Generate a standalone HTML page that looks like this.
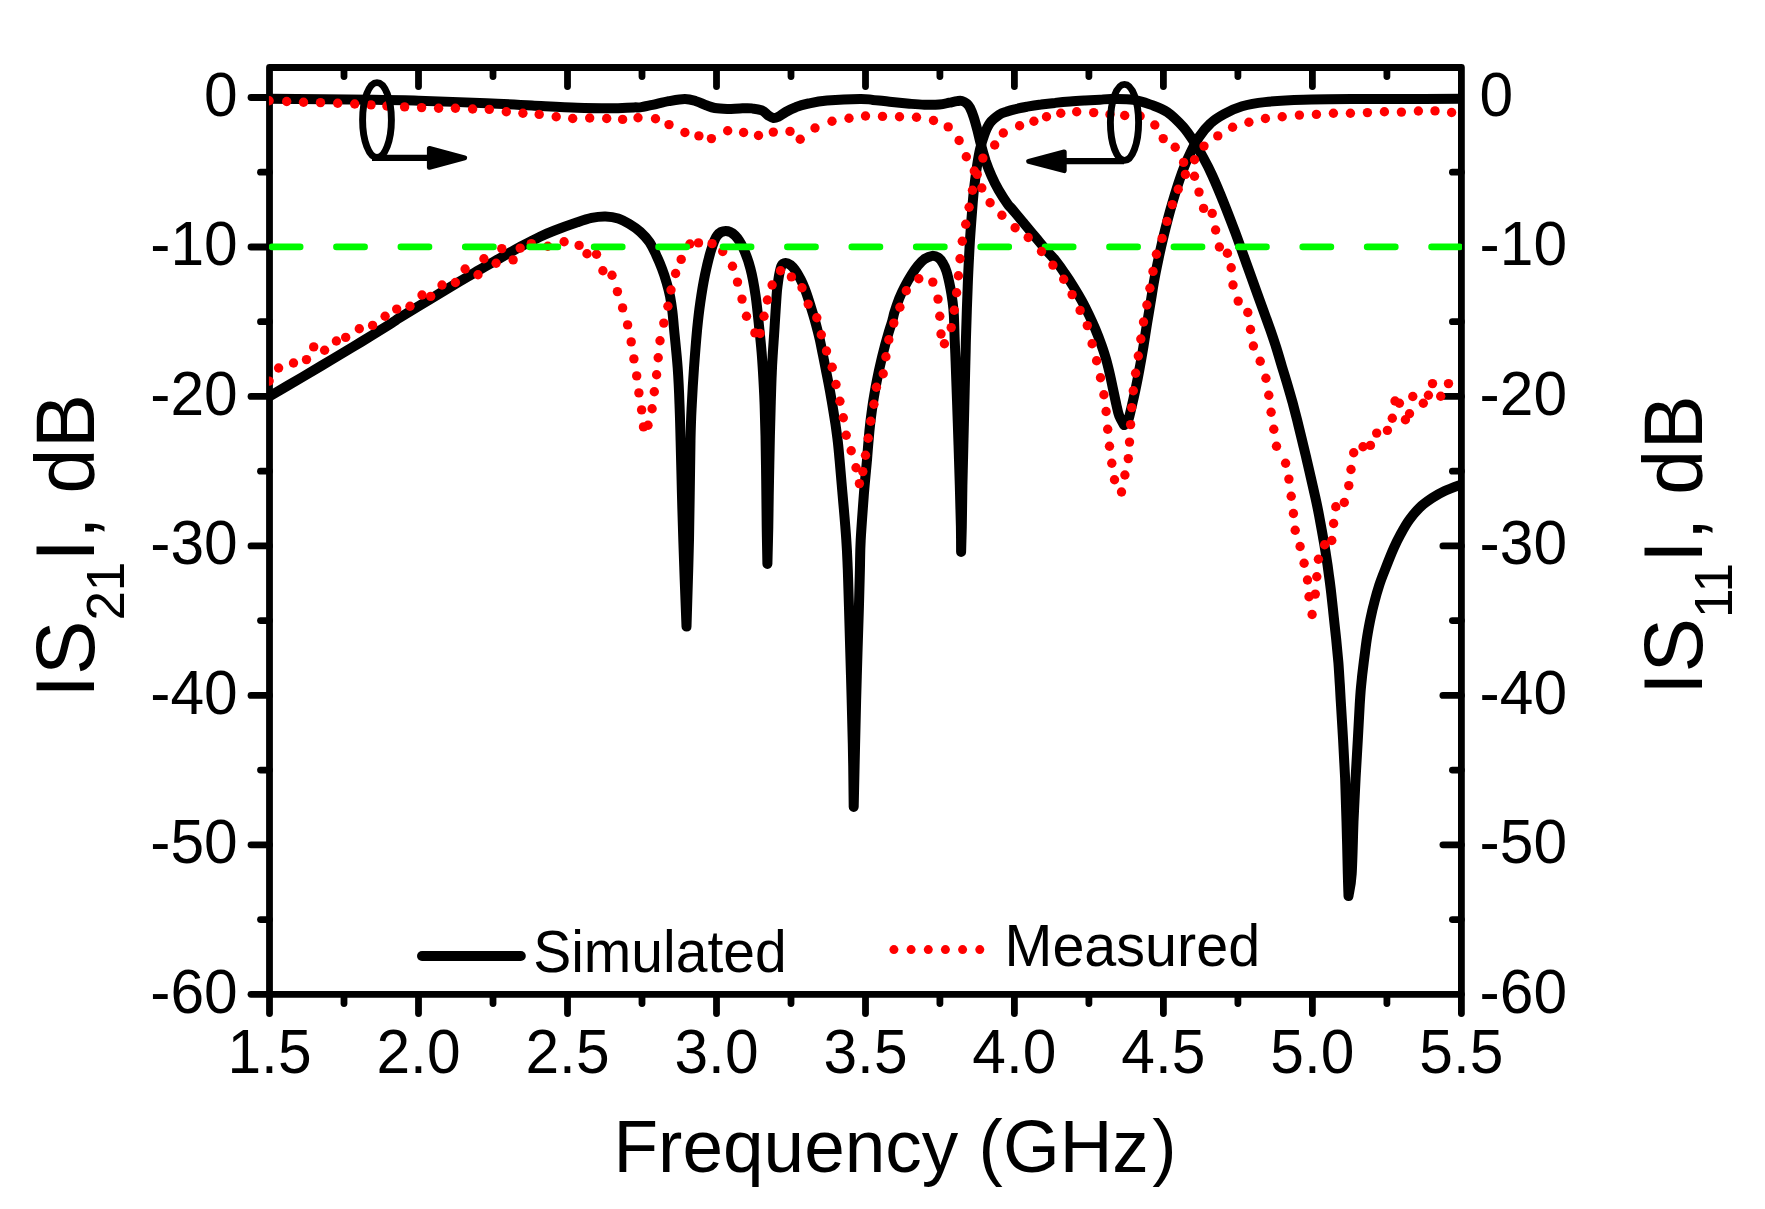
<!DOCTYPE html><html><head><meta charset="utf-8"><title>S-parameters</title><style>html,body{margin:0;padding:0;background:#fff}svg{display:block}text{font-family:"Liberation Sans",sans-serif;fill:#000}</style></head><body>
<svg width="1765" height="1209" viewBox="0 0 1765 1209">
<rect width="1765" height="1209" fill="#fff"/>
<defs><clipPath id="plot"><rect x="268.9" y="67.5" width="1193.1000000000001" height="926.8"/></clipPath></defs>
<g stroke="#000" stroke-width="6.8" fill="none" stroke-linecap="round" stroke-linejoin="round">
<rect x="269.5" y="67.5" width="1191.9" height="926.8"/>
<line x1="269.5" y1="994.3" x2="269.5" y2="1013.6"/>
<line x1="344.0" y1="994.3" x2="344.0" y2="1003.6"/>
<line x1="344.0" y1="67.5" x2="344.0" y2="76.5"/>
<line x1="418.5" y1="994.3" x2="418.5" y2="1013.6"/>
<line x1="418.5" y1="67.5" x2="418.5" y2="86.5"/>
<line x1="493.0" y1="994.3" x2="493.0" y2="1003.6"/>
<line x1="493.0" y1="67.5" x2="493.0" y2="76.5"/>
<line x1="567.5" y1="994.3" x2="567.5" y2="1013.6"/>
<line x1="567.5" y1="67.5" x2="567.5" y2="86.5"/>
<line x1="642.0" y1="994.3" x2="642.0" y2="1003.6"/>
<line x1="642.0" y1="67.5" x2="642.0" y2="76.5"/>
<line x1="716.5" y1="994.3" x2="716.5" y2="1013.6"/>
<line x1="716.5" y1="67.5" x2="716.5" y2="86.5"/>
<line x1="791.0" y1="994.3" x2="791.0" y2="1003.6"/>
<line x1="791.0" y1="67.5" x2="791.0" y2="76.5"/>
<line x1="865.5" y1="994.3" x2="865.5" y2="1013.6"/>
<line x1="865.5" y1="67.5" x2="865.5" y2="86.5"/>
<line x1="939.9" y1="994.3" x2="939.9" y2="1003.6"/>
<line x1="939.9" y1="67.5" x2="939.9" y2="76.5"/>
<line x1="1014.4" y1="994.3" x2="1014.4" y2="1013.6"/>
<line x1="1014.4" y1="67.5" x2="1014.4" y2="86.5"/>
<line x1="1088.9" y1="994.3" x2="1088.9" y2="1003.6"/>
<line x1="1088.9" y1="67.5" x2="1088.9" y2="76.5"/>
<line x1="1163.4" y1="994.3" x2="1163.4" y2="1013.6"/>
<line x1="1163.4" y1="67.5" x2="1163.4" y2="86.5"/>
<line x1="1237.9" y1="994.3" x2="1237.9" y2="1003.6"/>
<line x1="1237.9" y1="67.5" x2="1237.9" y2="76.5"/>
<line x1="1312.4" y1="994.3" x2="1312.4" y2="1013.6"/>
<line x1="1312.4" y1="67.5" x2="1312.4" y2="86.5"/>
<line x1="1386.9" y1="994.3" x2="1386.9" y2="1003.6"/>
<line x1="1386.9" y1="67.5" x2="1386.9" y2="76.5"/>
<line x1="1461.4" y1="994.3" x2="1461.4" y2="1013.6"/>
<line x1="269.5" y1="97.5" x2="251.0" y2="97.5"/>
<line x1="269.5" y1="172.2" x2="260.5" y2="172.2"/>
<line x1="1461.4" y1="172.2" x2="1452.4" y2="172.2"/>
<line x1="269.5" y1="247.0" x2="251.0" y2="247.0"/>
<line x1="269.5" y1="321.7" x2="260.5" y2="321.7"/>
<line x1="1461.4" y1="321.7" x2="1452.4" y2="321.7"/>
<line x1="269.5" y1="396.4" x2="251.0" y2="396.4"/>
<line x1="1461.4" y1="396.4" x2="1442.9" y2="396.4"/>
<line x1="269.5" y1="471.2" x2="260.5" y2="471.2"/>
<line x1="1461.4" y1="471.2" x2="1452.4" y2="471.2"/>
<line x1="269.5" y1="545.9" x2="251.0" y2="545.9"/>
<line x1="1461.4" y1="545.9" x2="1442.9" y2="545.9"/>
<line x1="269.5" y1="620.6" x2="260.5" y2="620.6"/>
<line x1="1461.4" y1="620.6" x2="1452.4" y2="620.6"/>
<line x1="269.5" y1="695.4" x2="251.0" y2="695.4"/>
<line x1="1461.4" y1="695.4" x2="1442.9" y2="695.4"/>
<line x1="269.5" y1="770.1" x2="260.5" y2="770.1"/>
<line x1="1461.4" y1="770.1" x2="1452.4" y2="770.1"/>
<line x1="269.5" y1="844.8" x2="251.0" y2="844.8"/>
<line x1="1461.4" y1="844.8" x2="1442.9" y2="844.8"/>
<line x1="269.5" y1="919.6" x2="260.5" y2="919.6"/>
<line x1="1461.4" y1="919.6" x2="1452.4" y2="919.6"/>
<line x1="269.5" y1="994.3" x2="251.0" y2="994.3"/>
</g>
<g clip-path="url(#plot)">
<g fill="none" stroke="#000" stroke-width="10" stroke-linejoin="round" stroke-linecap="round"><path d="M269.1 98.8C286.4 98.9 348.4 99.3 373.3 99.7C398.2 100.0 399.8 100.1 418.6 100.7C437.5 101.3 467.7 102.4 486.6 103.2C505.5 104.0 516.8 104.7 532.0 105.5C547.1 106.3 564.1 107.4 577.3 107.8C590.5 108.3 601.8 108.3 611.3 108.3C620.7 108.2 629.2 107.5 633.9 107.4C638.7 107.2 636.9 107.8 640.0 107.4C643.1 107.0 647.7 105.9 652.5 104.9C657.2 103.9 663.3 102.2 668.7 101.2C674.1 100.2 680.3 98.9 684.9 98.9C689.4 98.9 692.6 100.1 696.1 101.2C699.6 102.2 702.9 104.1 706.1 105.3C709.2 106.4 711.3 107.4 714.8 108.0C718.3 108.6 723.1 108.8 727.2 108.9C731.4 109.0 735.6 108.5 739.7 108.4C743.9 108.3 748.4 108.0 752.2 108.4C755.9 108.7 759.4 109.3 762.1 110.5C764.8 111.7 766.5 114.2 768.4 115.5C770.3 116.7 771.7 117.8 773.4 118.0C775.0 118.2 776.3 117.7 778.4 116.7C780.4 115.7 782.9 113.6 785.8 112.0C788.7 110.4 792.1 108.6 795.8 107.2C799.5 105.7 803.1 104.6 808.3 103.5C813.5 102.4 818.3 101.3 827.0 100.5C835.6 99.8 852.4 99.0 860.0 98.9C867.6 98.8 867.8 99.4 872.8 99.9C877.7 100.3 883.5 101.1 889.6 101.7C895.7 102.4 903.7 103.2 909.5 103.7C915.3 104.2 919.4 104.6 924.4 104.7C929.3 104.9 935.1 104.9 939.3 104.5C943.4 104.2 946.2 103.3 949.2 102.7C952.2 102.1 955.0 101.4 957.1 101.1C959.3 100.8 960.4 100.5 962.1 101.0C963.7 101.4 965.7 102.6 967.0 103.7C968.4 104.9 968.9 105.6 970.0 107.8C971.1 110.0 972.5 113.4 973.7 117.1C974.9 120.7 976.1 125.2 977.3 129.8C978.5 134.4 979.6 139.6 981.0 144.8C982.4 150.1 984.0 155.8 985.7 161.1C987.5 166.3 989.4 171.3 991.6 176.1C993.7 180.9 996.0 185.4 998.6 190.0C1001.3 194.6 1005.3 200.8 1007.5 203.9C1009.6 207.0 1009.0 205.4 1011.6 208.5C1014.2 211.6 1019.3 217.8 1023.2 222.4C1027.0 227.1 1030.9 231.7 1034.7 236.3C1038.6 240.9 1042.8 246.2 1046.3 250.2C1049.8 254.3 1052.5 256.8 1055.6 260.6C1058.7 264.5 1061.8 268.9 1064.8 273.4C1067.9 277.8 1071.0 282.6 1073.9 287.3C1076.8 291.9 1079.5 296.5 1082.0 301.2C1084.5 305.8 1086.8 310.4 1089.1 315.1C1091.3 319.7 1093.3 324.1 1095.3 329.0C1097.3 333.8 1099.4 339.2 1101.1 344.0C1102.9 348.8 1104.3 353.3 1105.7 357.9C1107.1 362.6 1108.1 366.8 1109.3 371.8C1110.5 376.8 1111.7 382.6 1112.8 388.0C1114.0 393.4 1115.2 399.6 1116.3 404.3C1117.3 408.9 1117.9 412.4 1119.2 415.8C1120.5 419.3 1123.3 423.6 1124.1 425.1L1124.1 425.1C1124.7 424.5 1126.7 423.2 1127.6 421.6C1128.5 420.1 1128.7 418.7 1129.5 415.8C1130.2 412.9 1131.3 408.5 1132.2 404.3C1133.2 400.0 1134.1 396.1 1135.3 390.4C1136.5 384.6 1138.1 376.8 1139.4 369.5C1140.8 362.2 1142.2 354.1 1143.5 346.3C1144.7 338.6 1145.9 330.9 1147.1 323.2C1148.4 315.4 1149.9 306.8 1151.0 300.0C1152.1 293.2 1152.7 288.9 1153.9 282.1C1155.1 275.3 1156.7 267.4 1158.4 259.4C1160.0 251.5 1162.1 242.4 1164.0 234.5C1165.9 226.6 1167.7 219.4 1169.8 211.8C1171.9 204.3 1174.2 196.4 1176.5 189.2C1178.8 182.0 1181.2 174.8 1183.5 168.8C1185.8 162.7 1187.8 158.2 1190.4 152.9C1193.0 147.6 1195.7 142.0 1199.0 137.1C1202.4 132.1 1206.2 127.3 1210.4 123.5C1214.5 119.6 1218.7 117.0 1224.0 114.1C1229.3 111.2 1235.3 108.3 1242.1 106.3C1248.9 104.3 1254.6 103.2 1264.8 102.1C1275.0 101.0 1287.4 100.2 1303.3 99.7C1319.2 99.1 1340.5 99.1 1359.9 99.0C1379.4 98.9 1403.1 99.0 1420.0 99.0C1436.9 99.0 1454.6 98.8 1461.5 98.8"/></g>
<g fill="none" stroke="#000" stroke-width="10" stroke-linejoin="round" stroke-linecap="round"><path d="M268.0 397.2C273.6 393.9 291.1 383.7 301.7 377.5C312.3 371.2 321.6 365.7 331.5 359.7C341.4 353.8 351.4 347.9 361.3 341.9C371.2 335.8 384.6 327.6 391.1 323.5C397.5 319.5 393.6 321.6 400.0 317.6C406.4 313.6 419.9 305.4 429.8 299.4C439.7 293.4 451.3 286.4 459.6 281.5C467.9 276.6 472.8 273.6 479.4 269.8C486.1 265.9 492.7 262.3 499.3 258.6C505.9 254.8 512.4 251.1 519.2 247.4C526.0 243.8 534.1 239.5 540.0 236.7C545.9 233.9 548.4 232.9 554.6 230.5C560.8 228.1 571.1 224.4 577.3 222.3C583.4 220.1 586.9 218.8 591.6 217.8C596.3 216.8 601.0 216.3 605.5 216.4C609.9 216.5 614.2 217.1 618.2 218.4C622.3 219.7 626.1 222.0 629.8 224.2C633.5 226.4 636.9 228.7 640.2 231.7C643.5 234.7 646.8 238.2 649.5 242.1C652.1 246.0 654.0 250.4 656.1 254.8C658.2 259.3 660.3 264.1 662.0 268.7C663.8 273.4 665.3 278.0 666.6 282.6C668.0 287.3 669.1 291.7 670.1 296.5C671.0 301.4 671.7 306.1 672.4 311.6C673.1 317.1 673.2 320.1 674.1 329.5C675.0 338.9 676.8 355.5 677.7 368.0C678.6 380.5 679.1 392.2 679.5 404.2C680.0 416.3 680.2 425.8 680.6 440.5C681.0 455.2 681.5 476.1 681.9 492.6C682.4 509.2 682.5 517.7 683.3 540.0C684.0 562.3 685.9 612.1 686.5 626.6L686.5 626.6C686.9 612.1 688.3 571.0 689.0 540.0C689.6 509.0 690.1 463.1 690.5 440.5C691.0 417.9 691.2 416.3 691.8 404.2C692.4 392.2 693.1 380.5 694.0 368.0C694.9 355.5 696.1 340.4 697.1 329.5C698.2 318.5 699.0 311.5 700.3 302.5C701.6 293.5 703.1 284.0 704.9 275.3C706.7 266.6 709.0 257.0 711.0 250.4C713.0 243.8 714.6 238.8 717.1 235.6C719.5 232.4 722.6 231.1 725.7 231.1C728.7 231.1 732.3 232.8 735.2 235.6C738.1 238.5 740.6 242.6 743.2 248.1C745.7 253.6 748.4 260.6 750.4 268.5C752.5 276.4 754.1 285.5 755.6 295.7C757.1 305.9 758.4 320.1 759.4 329.5C760.4 338.9 761.0 344.9 761.6 352.1C762.2 359.3 762.5 364.2 763.0 372.5C763.5 380.8 764.1 391.4 764.5 402.0C764.9 412.6 765.2 422.8 765.5 436.0C765.8 449.2 766.0 466.2 766.2 481.3C766.4 496.4 766.5 512.8 766.7 526.6C766.9 540.4 767.3 557.8 767.4 564.0L767.4 564.0C767.5 557.8 768.0 540.4 768.3 526.6C768.5 512.8 768.7 496.4 769.0 481.3C769.3 466.2 769.6 449.2 769.9 436.0C770.2 422.8 770.5 412.6 770.8 402.0C771.1 391.4 771.4 380.8 771.8 372.5C772.1 364.2 772.4 360.1 772.9 352.1C773.4 344.2 774.3 332.6 774.7 324.9C775.2 317.3 775.5 312.1 775.9 306.2C776.3 300.3 776.6 294.7 777.1 289.6C777.7 284.5 778.3 279.6 779.0 275.6C779.8 271.6 780.5 267.7 781.6 265.6C782.7 263.5 784.2 263.1 785.7 263.0C787.2 262.9 789.0 264.0 790.7 265.2C792.3 266.5 794.0 268.3 795.6 270.6C797.3 272.9 798.9 276.0 800.4 278.9C801.9 281.8 803.3 284.8 804.5 288.0C805.8 291.1 806.9 294.5 808.0 297.9C809.1 301.3 810.3 305.1 811.4 308.7C812.5 312.2 813.6 315.8 814.6 319.4C815.6 323.0 816.6 326.7 817.5 330.2C818.4 333.6 819.0 335.9 819.9 340.0C820.8 344.1 821.8 349.4 822.9 354.7C823.9 360.1 825.2 366.3 826.3 372.1C827.5 377.9 828.6 383.7 829.7 389.5C830.8 395.3 831.7 401.1 832.7 406.8C833.7 412.6 834.6 418.4 835.5 424.2C836.3 430.0 837.1 435.6 837.8 441.6C838.5 447.5 838.8 451.5 839.6 460.0C840.4 468.5 841.3 479.3 842.4 492.6C843.6 506.0 845.5 527.1 846.3 540.0C847.2 552.9 847.3 558.6 847.8 569.9C848.2 581.2 848.4 590.3 849.0 608.0C849.5 625.7 850.3 653.3 851.0 676.0C851.6 698.6 852.3 722.1 852.8 744.0C853.3 765.8 853.6 796.5 853.7 807.0L853.7 807.0C853.9 796.5 854.6 765.8 855.1 744.0C855.6 722.1 856.1 698.6 856.8 676.0C857.4 653.3 858.4 625.7 858.9 608.0C859.4 590.3 859.6 581.2 859.9 569.9C860.2 558.6 860.0 552.9 860.7 540.0C861.4 527.1 863.0 506.0 864.0 492.6C865.1 479.3 866.2 468.9 867.0 460.0C867.7 451.1 868.1 445.6 868.7 439.3C869.2 432.9 869.7 427.7 870.4 421.9C871.1 416.1 871.9 410.3 872.7 404.5C873.6 398.7 874.6 393.0 875.6 387.2C876.7 381.4 877.9 375.6 879.1 369.8C880.4 364.0 881.7 358.2 883.2 352.4C884.6 346.6 886.3 340.5 887.9 335.1C889.5 329.6 891.5 323.7 892.5 320.0C893.6 316.3 893.2 316.3 894.3 312.8C895.4 309.2 897.4 303.1 899.1 298.7C900.9 294.3 902.8 290.3 904.9 286.3C907.0 282.3 909.4 278.2 911.6 274.7C913.7 271.3 915.7 268.3 917.9 265.6C920.1 263.0 922.2 260.7 924.5 259.0C926.9 257.4 929.6 256.1 932.0 255.9C934.3 255.7 936.7 256.6 938.6 257.8C940.4 259.0 941.6 260.9 942.9 263.2C944.3 265.4 945.3 267.3 946.5 271.4C947.8 275.6 949.4 282.9 950.4 288.0C951.4 293.1 952.0 297.3 952.6 301.9C953.2 306.5 953.5 309.4 953.9 315.8C954.2 322.1 954.4 332.5 954.7 340.1C955.0 347.6 955.1 347.5 955.6 361.3C956.1 375.2 957.1 402.7 957.8 423.4C958.5 444.0 959.3 468.1 959.8 485.4C960.3 502.6 960.7 515.6 960.9 526.7C961.1 537.8 961.1 547.8 961.1 552.0L961.1 552.0C961.2 547.8 961.5 537.8 961.8 526.7C962.0 515.6 962.1 502.6 962.4 485.4C962.8 468.1 963.4 444.0 963.9 423.4C964.4 402.7 965.1 375.2 965.4 361.3C965.8 347.5 965.6 352.5 965.9 340.1C966.3 327.6 967.0 303.1 967.7 286.6C968.3 270.2 969.1 255.5 969.9 241.3C970.8 227.1 972.1 211.1 972.8 201.6C973.6 192.1 973.9 190.0 974.6 184.2C975.3 178.4 976.0 172.6 976.9 166.8C977.8 161.1 978.7 154.9 980.0 149.5C981.2 144.1 982.7 138.9 984.4 134.4C986.1 130.0 987.6 126.1 990.1 122.8C992.6 119.6 996.7 116.6 999.4 114.7C1002.1 112.9 1003.6 112.7 1006.3 111.8C1009.0 110.8 1012.1 109.9 1015.6 109.1C1019.1 108.2 1022.9 107.5 1027.2 106.7C1031.4 105.9 1036.4 105.1 1041.1 104.5C1045.7 103.8 1050.1 103.3 1055.0 102.9C1059.8 102.4 1065.0 101.9 1070.0 101.5C1075.0 101.1 1080.1 100.8 1085.1 100.5C1090.1 100.2 1095.7 99.9 1100.0 99.7C1104.3 99.4 1105.1 99.0 1110.7 99.0C1116.2 99.0 1126.5 98.7 1133.3 99.7C1140.1 100.7 1145.8 102.9 1151.4 104.9C1157.1 107.0 1162.0 108.5 1167.3 112.1C1172.6 115.8 1178.6 121.8 1183.2 126.9C1187.7 132.0 1191.2 137.6 1194.5 142.7C1197.8 147.8 1200.3 152.0 1203.2 157.5C1206.2 162.9 1208.9 168.0 1212.3 175.6C1215.7 183.1 1220.0 193.3 1223.8 202.8C1227.6 212.2 1231.3 222.0 1235.2 232.2C1239.0 242.4 1242.8 253.4 1246.6 264.0C1250.4 274.5 1254.1 284.7 1258.0 295.7C1262.0 306.7 1267.4 321.4 1270.4 330.0C1273.4 338.6 1274.2 341.2 1276.2 347.4C1278.1 353.5 1280.4 361.3 1282.1 367.1C1283.9 372.8 1285.0 376.3 1286.7 382.1C1288.4 387.9 1290.6 395.4 1292.4 401.8C1294.1 408.2 1295.6 414.1 1297.2 420.3C1298.7 426.5 1300.3 432.9 1301.7 438.8C1303.2 444.8 1304.3 449.8 1305.9 456.2C1307.4 462.6 1309.3 470.6 1310.8 477.4C1312.4 484.2 1313.9 490.7 1315.3 497.1C1316.7 503.4 1317.9 509.2 1319.1 515.6C1320.3 521.9 1321.5 528.7 1322.7 535.3C1323.8 541.8 1325.0 548.2 1326.0 555.0C1327.1 561.7 1328.2 569.4 1329.0 575.8C1329.9 582.2 1330.5 586.4 1331.2 593.1C1332.0 599.9 1332.9 608.6 1333.7 616.3C1334.5 624.0 1335.4 631.7 1336.2 639.4C1336.9 647.2 1337.7 654.9 1338.4 662.6C1339.0 670.3 1339.4 678.7 1339.9 685.7C1340.3 692.8 1340.4 696.0 1341.0 705.0C1341.5 714.0 1342.4 727.8 1343.1 740.0C1343.8 752.2 1344.5 764.5 1345.1 778.1C1345.6 791.7 1346.1 805.6 1346.5 821.5C1347.0 837.4 1347.5 861.2 1347.8 873.6C1348.1 886.0 1348.4 892.3 1348.5 896.0L1348.5 896.0C1349.0 892.3 1350.9 886.0 1351.7 873.6C1352.5 861.2 1352.9 837.4 1353.5 821.5C1354.2 805.6 1354.9 791.7 1355.6 778.1C1356.3 764.5 1357.1 752.2 1357.8 740.0C1358.5 727.8 1359.2 713.1 1359.7 705.0C1360.2 696.9 1360.2 696.7 1360.6 691.5C1361.0 686.4 1361.7 680.1 1362.3 674.2C1363.0 668.2 1363.8 661.8 1364.6 655.6C1365.4 649.5 1366.1 643.3 1367.1 637.1C1368.1 631.0 1369.2 624.6 1370.5 618.6C1371.7 612.6 1373.1 606.8 1374.6 601.2C1376.0 595.7 1377.6 590.3 1379.3 585.0C1381.0 579.8 1382.4 576.2 1384.9 570.0C1387.3 563.8 1391.2 553.9 1393.8 548.0C1396.4 542.1 1397.8 539.3 1400.4 534.6C1402.9 530.0 1405.8 524.6 1409.1 520.1C1412.4 515.5 1416.3 511.0 1420.0 507.3C1423.8 503.7 1427.8 501.0 1431.9 498.2C1436.0 495.5 1439.6 493.3 1444.6 491.0C1449.6 488.6 1459.0 485.4 1461.9 484.3"/></g>
<g fill="#ff0000"><circle cx="269.1" cy="381.1" r="4.7"/><circle cx="278.6" cy="368.0" r="4.7"/><circle cx="293.5" cy="363.0" r="4.7"/><circle cx="306.5" cy="359.6" r="4.7"/><circle cx="313.7" cy="346.9" r="4.7"/><circle cx="324.6" cy="350.3" r="4.7"/><circle cx="336.4" cy="341.0" r="4.7"/><circle cx="345.7" cy="337.4" r="4.7"/><circle cx="359.3" cy="328.8" r="4.7"/><circle cx="372.6" cy="325.4" r="4.7"/><circle cx="385.1" cy="316.3" r="4.7"/><circle cx="396.7" cy="309.1" r="4.7"/><circle cx="410.0" cy="306.3" r="4.7"/><circle cx="422.0" cy="295.0" r="4.7"/><circle cx="430.7" cy="296.4" r="4.7"/><circle cx="442.0" cy="285.0" r="4.7"/><circle cx="455.4" cy="282.5" r="4.7"/><circle cx="465.1" cy="269.0" r="4.7"/><circle cx="478.0" cy="274.8" r="4.7"/><circle cx="483.9" cy="258.8" r="4.7"/><circle cx="496.1" cy="263.3" r="4.7"/><circle cx="501.8" cy="248.6" r="4.7"/><circle cx="513.1" cy="259.9" r="4.7"/><circle cx="520.2" cy="248.1" r="4.7"/><circle cx="531.3" cy="243.6" r="4.7"/><circle cx="547.8" cy="246.3" r="4.7"/><circle cx="564.1" cy="241.8" r="4.7"/><circle cx="579.1" cy="245.4" r="4.7"/><circle cx="587.0" cy="253.8" r="4.7"/><circle cx="596.5" cy="254.2" r="4.7"/><circle cx="602.9" cy="270.8" r="4.7"/><circle cx="612.0" cy="275.3" r="4.7"/><circle cx="617.4" cy="291.6" r="4.7"/><circle cx="622.6" cy="307.9" r="4.7"/><circle cx="627.6" cy="324.9" r="4.7"/><circle cx="631.2" cy="341.9" r="4.7"/><circle cx="633.9" cy="358.9" r="4.7"/><circle cx="636.7" cy="375.9" r="4.7"/><circle cx="638.9" cy="392.9" r="4.7"/><circle cx="641.6" cy="409.9" r="4.7"/><circle cx="643.5" cy="426.9" r="4.7"/><circle cx="648.0" cy="425.3" r="4.7"/><circle cx="652.1" cy="408.8" r="4.7"/><circle cx="654.3" cy="391.8" r="4.7"/><circle cx="656.6" cy="374.8" r="4.7"/><circle cx="658.2" cy="357.8" r="4.7"/><circle cx="660.0" cy="340.8" r="4.7"/><circle cx="663.8" cy="323.1" r="4.7"/><circle cx="667.9" cy="306.3" r="4.7"/><circle cx="671.0" cy="290.0" r="4.7"/><circle cx="675.6" cy="273.5" r="4.7"/><circle cx="681.2" cy="259.4" r="4.7"/><circle cx="689.9" cy="244.0" r="4.7"/><circle cx="698.5" cy="242.9" r="4.7"/><circle cx="712.1" cy="243.6" r="4.7"/><circle cx="722.7" cy="251.5" r="4.7"/><circle cx="732.5" cy="266.2" r="4.7"/><circle cx="737.5" cy="282.1" r="4.7"/><circle cx="742.0" cy="299.1" r="4.7"/><circle cx="746.5" cy="316.3" r="4.7"/><circle cx="754.9" cy="332.9" r="4.7"/><circle cx="760.1" cy="333.5" r="4.7"/><circle cx="764.0" cy="316.3" r="4.7"/><circle cx="767.4" cy="300.0" r="4.7"/><circle cx="772.1" cy="285.0" r="4.7"/><circle cx="780.5" cy="270.8" r="4.7"/><circle cx="791.4" cy="276.9" r="4.7"/><circle cx="802.0" cy="287.8" r="4.7"/><circle cx="808.2" cy="304.1" r="4.7"/><circle cx="816.8" cy="317.7" r="4.7"/><circle cx="821.3" cy="334.7" r="4.7"/><circle cx="826.5" cy="351.0" r="4.7"/><circle cx="832.2" cy="367.3" r="4.7"/><circle cx="836.0" cy="384.5" r="4.7"/><circle cx="839.9" cy="401.3" r="4.7"/><circle cx="843.3" cy="417.8" r="4.7"/><circle cx="846.2" cy="435.3" r="4.7"/><circle cx="851.2" cy="450.7" r="4.7"/><circle cx="856.0" cy="467.7" r="4.7"/><circle cx="859.4" cy="483.6" r="4.7"/><circle cx="862.8" cy="471.6" r="4.7"/><circle cx="865.5" cy="455.2" r="4.7"/><circle cx="868.2" cy="438.2" r="4.7"/><circle cx="870.7" cy="421.2" r="4.7"/><circle cx="873.9" cy="404.2" r="4.7"/><circle cx="876.4" cy="387.3" r="4.7"/><circle cx="883.2" cy="373.7" r="4.7"/><circle cx="885.9" cy="356.7" r="4.7"/><circle cx="888.8" cy="339.7" r="4.7"/><circle cx="893.8" cy="323.1" r="4.7"/><circle cx="899.9" cy="307.3" r="4.7"/><circle cx="906.3" cy="290.7" r="4.7"/><circle cx="918.8" cy="278.7" r="4.7"/><circle cx="932.8" cy="282.1" r="4.7"/><circle cx="938.0" cy="299.1" r="4.7"/><circle cx="939.8" cy="316.3" r="4.7"/><circle cx="941.0" cy="334.0" r="4.7"/><circle cx="944.4" cy="343.7" r="4.7"/><circle cx="951.2" cy="327.6" r="4.7"/><circle cx="954.3" cy="310.2" r="4.7"/><circle cx="956.6" cy="292.7" r="4.7"/><circle cx="958.4" cy="275.8" r="4.7"/><circle cx="960.0" cy="258.8" r="4.7"/><circle cx="962.3" cy="241.3" r="4.7"/><circle cx="965.7" cy="224.3" r="4.7"/><circle cx="969.1" cy="207.3" r="4.7"/><circle cx="972.5" cy="190.3" r="4.7"/><circle cx="977.2" cy="174.4" r="4.7"/><circle cx="982.9" cy="158.1" r="4.7"/><circle cx="994.7" cy="145.0" r="4.7"/><circle cx="1003.3" cy="133.0" r="4.7"/><circle cx="1019.6" cy="125.7" r="4.7"/><circle cx="1033.9" cy="121.2" r="4.7"/><circle cx="1046.5" cy="116.7" r="4.7"/><circle cx="1060.8" cy="113.3" r="4.7"/><circle cx="1076.7" cy="111.7" r="4.7"/><circle cx="1093.7" cy="112.6" r="4.7"/><circle cx="1110.0" cy="114.4" r="4.7"/><circle cx="1124.7" cy="115.5" r="4.7"/><circle cx="1140.1" cy="116.0" r="4.7"/><circle cx="1154.8" cy="125.0" r="4.7"/><circle cx="1163.2" cy="138.6" r="4.7"/><circle cx="1175.2" cy="147.3" r="4.7"/><circle cx="1194.5" cy="159.7" r="4.7"/><circle cx="1194.5" cy="176.3" r="4.7"/><circle cx="1199.0" cy="192.1" r="4.7"/><circle cx="1203.6" cy="208.4" r="4.7"/><circle cx="1212.2" cy="213.4" r="4.7"/><circle cx="1215.6" cy="230.0" r="4.7"/><circle cx="1219.4" cy="247.0" r="4.7"/><circle cx="1227.4" cy="253.3" r="4.7"/><circle cx="1231.2" cy="267.8" r="4.7"/><circle cx="1233.0" cy="285.0" r="4.7"/><circle cx="1238.2" cy="301.1" r="4.7"/><circle cx="1247.8" cy="312.5" r="4.7"/><circle cx="1250.5" cy="329.5" r="4.7"/><circle cx="1253.4" cy="346.0" r="4.7"/><circle cx="1260.2" cy="361.2" r="4.7"/><circle cx="1265.9" cy="378.2" r="4.7"/><circle cx="1268.8" cy="395.2" r="4.7"/><circle cx="1271.1" cy="412.2" r="4.7"/><circle cx="1273.8" cy="429.2" r="4.7"/><circle cx="1276.5" cy="446.2" r="4.7"/><circle cx="1285.6" cy="463.3" r="4.7"/><circle cx="1288.9" cy="479.1" r="4.7"/><circle cx="1291.2" cy="496.3" r="4.7"/><circle cx="1293.4" cy="513.5" r="4.7"/><circle cx="1295.2" cy="530.2" r="4.7"/><circle cx="1300.1" cy="546.5" r="4.7"/><circle cx="1304.1" cy="563.3" r="4.7"/><circle cx="1307.5" cy="580.0" r="4.7"/><circle cx="1309.0" cy="596.7" r="4.7"/><circle cx="1315.3" cy="594.1" r="4.7"/><circle cx="1316.8" cy="576.7" r="4.7"/><circle cx="1318.4" cy="559.2" r="4.7"/><circle cx="1324.6" cy="544.7" r="4.7"/><circle cx="1331.8" cy="540.5" r="4.7"/><circle cx="1333.6" cy="523.5" r="4.7"/><circle cx="1335.8" cy="506.8" r="4.7"/><circle cx="1344.3" cy="502.5" r="4.7"/><circle cx="1348.8" cy="485.6" r="4.7"/><circle cx="1351.0" cy="469.5" r="4.7"/><circle cx="1353.7" cy="452.8" r="4.7"/><circle cx="1363.0" cy="446.7" r="4.7"/><circle cx="1370.4" cy="445.4" r="4.7"/><circle cx="1376.7" cy="433.1" r="4.7"/><circle cx="1387.4" cy="430.4" r="4.7"/><circle cx="1392.3" cy="418.2" r="4.7"/><circle cx="1395.0" cy="401.0" r="4.7"/><circle cx="1399.4" cy="403.2" r="4.7"/><circle cx="1405.4" cy="419.7" r="4.7"/><circle cx="1409.5" cy="413.7" r="4.7"/><circle cx="1412.8" cy="396.5" r="4.7"/><circle cx="1423.3" cy="403.2" r="4.7"/><circle cx="1428.4" cy="395.2" r="4.7"/><circle cx="1432.5" cy="383.6" r="4.7"/><circle cx="1440.7" cy="396.3" r="4.7"/><circle cx="1448.5" cy="383.6" r="4.7"/><circle cx="1312.1" cy="614.5" r="4.7"/></g>
<line x1="272" y1="246.9" x2="1475" y2="246.9" stroke="#00fa00" stroke-width="6.6" stroke-linecap="round" stroke-dasharray="28.2 36.22"/>
<g fill="#ff0000"><circle cx="269.1" cy="100.8" r="4.7"/><circle cx="286.7" cy="101.5" r="4.7"/><circle cx="303.5" cy="102.2" r="4.7"/><circle cx="320.5" cy="102.6" r="4.7"/><circle cx="337.7" cy="103.3" r="4.7"/><circle cx="354.7" cy="104.0" r="4.7"/><circle cx="371.0" cy="104.9" r="4.7"/><circle cx="386.9" cy="106.0" r="4.7"/><circle cx="404.6" cy="106.9" r="4.7"/><circle cx="421.6" cy="107.6" r="4.7"/><circle cx="438.6" cy="108.3" r="4.7"/><circle cx="455.4" cy="108.3" r="4.7"/><circle cx="472.6" cy="109.0" r="4.7"/><circle cx="489.3" cy="109.4" r="4.7"/><circle cx="506.3" cy="111.7" r="4.7"/><circle cx="522.9" cy="113.3" r="4.7"/><circle cx="539.2" cy="114.4" r="4.7"/><circle cx="556.2" cy="116.7" r="4.7"/><circle cx="572.7" cy="118.5" r="4.7"/><circle cx="589.7" cy="118.0" r="4.7"/><circle cx="606.7" cy="118.5" r="4.7"/><circle cx="622.6" cy="119.4" r="4.7"/><circle cx="638.0" cy="117.8" r="4.7"/><circle cx="655.5" cy="118.7" r="4.7"/><circle cx="669.0" cy="124.6" r="4.7"/><circle cx="684.9" cy="132.5" r="4.7"/><circle cx="698.9" cy="135.9" r="4.7"/><circle cx="711.4" cy="138.6" r="4.7"/><circle cx="727.7" cy="130.7" r="4.7"/><circle cx="743.6" cy="132.5" r="4.7"/><circle cx="758.5" cy="135.5" r="4.7"/><circle cx="773.3" cy="132.1" r="4.7"/><circle cx="790.0" cy="131.4" r="4.7"/><circle cx="800.2" cy="139.3" r="4.7"/><circle cx="815.0" cy="128.0" r="4.7"/><circle cx="832.0" cy="121.2" r="4.7"/><circle cx="849.0" cy="118.2" r="4.7"/><circle cx="865.5" cy="116.0" r="4.7"/><circle cx="882.5" cy="116.4" r="4.7"/><circle cx="899.5" cy="116.7" r="4.7"/><circle cx="916.5" cy="117.3" r="4.7"/><circle cx="933.5" cy="120.5" r="4.7"/><circle cx="948.2" cy="126.9" r="4.7"/><circle cx="959.1" cy="140.5" r="4.7"/><circle cx="966.3" cy="156.8" r="4.7"/><circle cx="974.3" cy="171.0" r="4.7"/><circle cx="981.8" cy="188.0" r="4.7"/><circle cx="990.1" cy="202.8" r="4.7"/><circle cx="1001.9" cy="215.2" r="4.7"/><circle cx="1015.1" cy="227.7" r="4.7"/><circle cx="1028.2" cy="237.5" r="4.7"/><circle cx="1041.5" cy="251.5" r="4.7"/><circle cx="1052.9" cy="265.1" r="4.7"/><circle cx="1063.7" cy="279.2" r="4.7"/><circle cx="1072.1" cy="294.6" r="4.7"/><circle cx="1080.1" cy="310.4" r="4.7"/><circle cx="1087.3" cy="325.6" r="4.7"/><circle cx="1092.1" cy="343.7" r="4.7"/><circle cx="1096.6" cy="360.7" r="4.7"/><circle cx="1100.5" cy="377.7" r="4.7"/><circle cx="1103.9" cy="394.7" r="4.7"/><circle cx="1106.1" cy="411.5" r="4.7"/><circle cx="1107.7" cy="429.2" r="4.7"/><circle cx="1109.5" cy="446.2" r="4.7"/><circle cx="1111.8" cy="463.2" r="4.7"/><circle cx="1114.5" cy="479.7" r="4.7"/><circle cx="1121.5" cy="492.0" r="4.7"/><circle cx="1124.9" cy="475.0" r="4.7"/><circle cx="1128.3" cy="458.6" r="4.7"/><circle cx="1129.5" cy="442.1" r="4.7"/><circle cx="1130.6" cy="424.6" r="4.7"/><circle cx="1131.7" cy="407.6" r="4.7"/><circle cx="1133.3" cy="390.7" r="4.7"/><circle cx="1135.6" cy="373.2" r="4.7"/><circle cx="1138.3" cy="356.0" r="4.7"/><circle cx="1140.8" cy="339.0" r="4.7"/><circle cx="1143.5" cy="322.0" r="4.7"/><circle cx="1146.9" cy="305.0" r="4.7"/><circle cx="1149.9" cy="288.2" r="4.7"/><circle cx="1153.0" cy="271.4" r="4.7"/><circle cx="1156.4" cy="254.2" r="4.7"/><circle cx="1162.1" cy="238.4" r="4.7"/><circle cx="1166.9" cy="221.4" r="4.7"/><circle cx="1172.3" cy="204.6" r="4.7"/><circle cx="1178.2" cy="189.2" r="4.7"/><circle cx="1185.4" cy="174.4" r="4.7"/><circle cx="1183.6" cy="162.4" r="4.7"/><circle cx="1204.0" cy="146.1" r="4.7"/><circle cx="1217.8" cy="135.9" r="4.7"/><circle cx="1232.6" cy="127.3" r="4.7"/><circle cx="1248.9" cy="122.3" r="4.7"/><circle cx="1265.4" cy="118.5" r="4.7"/><circle cx="1282.2" cy="116.7" r="4.7"/><circle cx="1299.4" cy="115.1" r="4.7"/><circle cx="1316.4" cy="114.4" r="4.7"/><circle cx="1333.4" cy="113.3" r="4.7"/><circle cx="1350.4" cy="113.3" r="4.7"/><circle cx="1367.4" cy="112.6" r="4.7"/><circle cx="1384.4" cy="111.7" r="4.7"/><circle cx="1401.4" cy="112.1" r="4.7"/><circle cx="1418.4" cy="111.0" r="4.7"/><circle cx="1435.0" cy="110.9" r="4.7"/><circle cx="1451.6" cy="112.5" r="4.7"/></g>
</g>
<g fill="none" stroke="#000" stroke-width="6.9">
<ellipse cx="377" cy="120" rx="14.4" ry="37.4"/>
<ellipse cx="1124.5" cy="122.4" rx="14.1" ry="38"/>
</g>
<g fill="none" stroke="#000" stroke-width="6.2">
<path d="M372 157.9H430"/><path d="M1124 161.2H1064"/>
</g>
<path d="M429.4 148.5L464.6 157.9L429.4 167.3Z" fill="#000" stroke="#000" stroke-width="5" stroke-linejoin="round"/>
<path d="M1064.2 151.9L1028.7 161.3L1064.2 170.7Z" fill="#000" stroke="#000" stroke-width="5" stroke-linejoin="round"/>
<text transform="translate(237.7,115.8) scale(1,1.045)" font-size="60.5" text-anchor="end">0</text>
<text transform="translate(1479.6,115.8) scale(1,1.045)" font-size="60.5" text-anchor="start">0</text>
<text transform="translate(237.7,265.3) scale(1,1.045)" font-size="60.5" text-anchor="end">-10</text>
<text transform="translate(1479.6,265.3) scale(1,1.045)" font-size="60.5" text-anchor="start">-10</text>
<text transform="translate(237.7,414.7) scale(1,1.045)" font-size="60.5" text-anchor="end">-20</text>
<text transform="translate(1479.6,414.7) scale(1,1.045)" font-size="60.5" text-anchor="start">-20</text>
<text transform="translate(237.7,564.2) scale(1,1.045)" font-size="60.5" text-anchor="end">-30</text>
<text transform="translate(1479.6,564.2) scale(1,1.045)" font-size="60.5" text-anchor="start">-30</text>
<text transform="translate(237.7,713.7) scale(1,1.045)" font-size="60.5" text-anchor="end">-40</text>
<text transform="translate(1479.6,713.7) scale(1,1.045)" font-size="60.5" text-anchor="start">-40</text>
<text transform="translate(237.7,863.1) scale(1,1.045)" font-size="60.5" text-anchor="end">-50</text>
<text transform="translate(1479.6,863.1) scale(1,1.045)" font-size="60.5" text-anchor="start">-50</text>
<text transform="translate(237.7,1012.6) scale(1,1.045)" font-size="60.5" text-anchor="end">-60</text>
<text transform="translate(1479.6,1012.6) scale(1,1.045)" font-size="60.5" text-anchor="start">-60</text>
<text transform="translate(269.5,1073.0) scale(1,1.045)" font-size="60.5" text-anchor="middle">1.5</text>
<text transform="translate(418.5,1073.0) scale(1,1.045)" font-size="60.5" text-anchor="middle">2.0</text>
<text transform="translate(567.5,1073.0) scale(1,1.045)" font-size="60.5" text-anchor="middle">2.5</text>
<text transform="translate(716.5,1073.0) scale(1,1.045)" font-size="60.5" text-anchor="middle">3.0</text>
<text transform="translate(865.5,1073.0) scale(1,1.045)" font-size="60.5" text-anchor="middle">3.5</text>
<text transform="translate(1014.4,1073.0) scale(1,1.045)" font-size="60.5" text-anchor="middle">4.0</text>
<text transform="translate(1163.4,1073.0) scale(1,1.045)" font-size="60.5" text-anchor="middle">4.5</text>
<text transform="translate(1312.4,1073.0) scale(1,1.045)" font-size="60.5" text-anchor="middle">5.0</text>
<text transform="translate(1461.4,1073.0) scale(1,1.045)" font-size="60.5" text-anchor="middle">5.5</text>
<text transform="translate(613.5,1172.0) scale(1,1.015)" font-size="73" text-anchor="start">Frequency (GHz<tspan dx="3.5">)</tspan></text>
<text transform="translate(93.9,697.7) rotate(-90) scale(1,1.027)" font-size="81.6">IS<tspan font-size="53" dy="29.4">21</tspan><tspan dy="-29.4">I, dB</tspan></text>
<text transform="translate(1701.7,695.1) rotate(-90) scale(1,1.027)" font-size="81.6">IS<tspan font-size="53" dy="29.4">11</tspan><tspan dy="-29.4">I, dB</tspan></text>
<line x1="422" y1="956" x2="520.8" y2="956" stroke="#000" stroke-width="10" stroke-linecap="round"/>
<text transform="translate(533.2,971.7) scale(1,1.04)" font-size="57" text-anchor="start">Simulated</text>
<g fill="#f00"><circle cx="893.9" cy="949.6" r="4.5"/><circle cx="911.1" cy="949.6" r="4.5"/><circle cx="928.3" cy="949.6" r="4.5"/><circle cx="945.4" cy="949.6" r="4.5"/><circle cx="962.6" cy="949.6" r="4.5"/><circle cx="979.8" cy="949.6" r="4.5"/></g>
<text transform="translate(1004.5,965.5) scale(1,1.035)" font-size="57.5" text-anchor="start">Measured</text>
</svg></body></html>
